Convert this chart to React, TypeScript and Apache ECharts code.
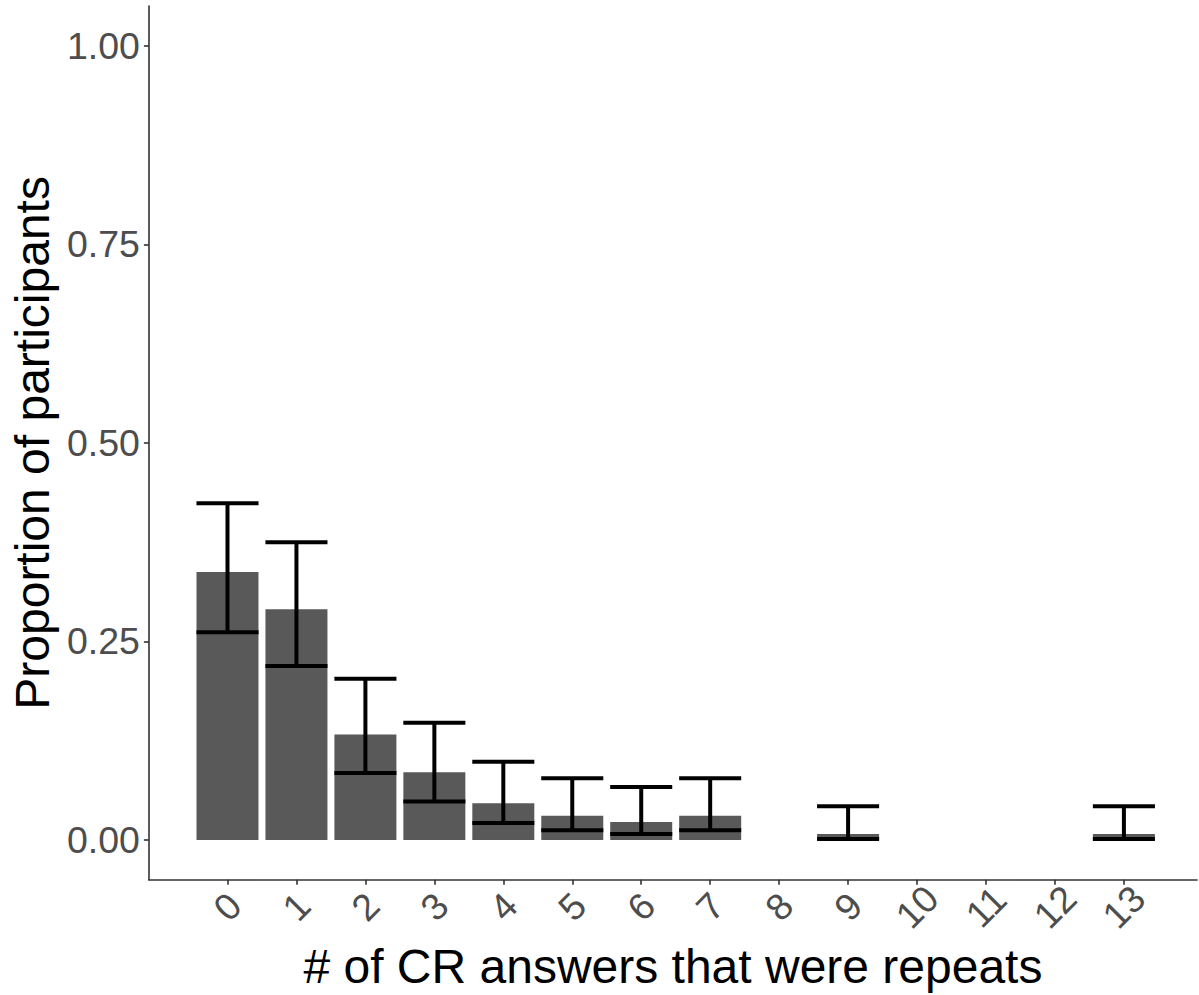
import React, { useEffect, useRef } from "react";
import * as echarts from "echarts";

// Number of constructed-response answers that were repeats
const categories: number[] = [0, 1, 2, 3, 4, 5, 6, 7, 8, 9, 10, 11, 12, 13];
// Proportion of participants per count (categories 8, 10, 11, 12 have none)
const barCats: number[] = [0, 1, 2, 3, 4, 5, 6, 7, 9, 13];
const proportions: number[] = [0.3375, 0.2905, 0.133, 0.0855, 0.0465, 0.0305, 0.0228, 0.0305, 0.0077, 0.0077];
// Confidence interval bounds
const lowerCI: number[] = [0.2615, 0.219, 0.0845, 0.0487, 0.0215, 0.0125, 0.0075, 0.0125, 0.0014, 0.0014];
const upperCI: number[] = [0.424, 0.375, 0.203, 0.1477, 0.0987, 0.0778, 0.0668, 0.0778, 0.0425, 0.0425];
const yTicks: number[] = [0, 0.25, 0.5, 0.75, 1];

const FONT = "'Liberation Sans', Arial, sans-serif";

export default function App() {
  const ref = useRef<HTMLDivElement>(null);

  useEffect(() => {
    if (!ref.current) return;
    const chart = echarts.init(ref.current, null, { renderer: "svg" });

    const barData = barCats.map((c, i) => [c, proportions[i]]);
    const errData = barCats.map((c, i) => [c, lowerCI[i], upperCI[i]]);

    chart.setOption({
      animation: false,
      backgroundColor: "#ffffff",
      grid: { left: 146, right: 2, top: 6, bottom: 112, containLabel: false },
      xAxis: {
        type: "value",
        min: -1.14,
        max: 14.06,
        name: "# of CR answers that were repeats",
        nameLocation: "middle",
        nameGap: 58,
        nameTextStyle: { fontFamily: FONT, fontSize: 48, color: "#000000" },
        splitLine: { show: false },
        axisLine: { show: true, onZero: false, lineStyle: { color: "#333333", width: 1.6 } },
        axisTick: {
          show: true,
          length: 5,
          customValues: categories,
          lineStyle: { color: "#333333", width: 1.6 },
        },
        axisLabel: {
          customValues: categories,
          rotate: 45,
          align: "center",
          verticalAlign: "middle",
          margin: 27,
          fontFamily: FONT,
          fontSize: 37.5,
          color: "#4d4d4d",
          formatter: (v: number) => String(v),
        },
      },
      yAxis: {
        type: "value",
        min: -0.05,
        max: 1.05,
        name: "Proportion of participants",
        nameLocation: "middle",
        nameGap: 86,
        nameTextStyle: { fontFamily: FONT, fontSize: 48, color: "#000000" },
        splitLine: { show: false },
        axisLine: { show: true, onZero: false, lineStyle: { color: "#333333", width: 1.6 } },
        axisTick: {
          show: true,
          length: 5,
          customValues: yTicks,
          lineStyle: { color: "#333333", width: 1.6 },
        },
        axisLabel: {
          customValues: yTicks,
          margin: 9,
          fontFamily: FONT,
          fontSize: 37.5,
          color: "#4d4d4d",
          formatter: (v: number) => v.toFixed(2),
        },
      },
      series: [
        {
          type: "bar",
          data: barData,
          barWidth: 62,
          itemStyle: { color: "#595959" },
          z: 2,
        },
        {
          type: "custom",
          data: errData,
          z: 3,
          renderItem: (params: any, api: any) => {
            const x = api.value(0);
            const lo = api.coord([x, api.value(1)]);
            const hi = api.coord([x, api.value(2)]);
            const left = api.coord([x - 0.45, 0])[0];
            const right = api.coord([x + 0.45, 0])[0];
            const style = { stroke: "#000000", lineWidth: 4, fill: "none" };
            return {
              type: "group",
              children: [
                { type: "line", shape: { x1: lo[0], y1: lo[1], x2: hi[0], y2: hi[1] }, style },
                { type: "line", shape: { x1: left, y1: hi[1], x2: right, y2: hi[1] }, style },
                { type: "line", shape: { x1: left, y1: lo[1], x2: right, y2: lo[1] }, style },
              ],
            };
          },
        },
      ],
    });

    return () => chart.dispose();
  }, []);

  return (
    <div
      ref={ref}
      style={{ position: "fixed", left: 0, top: 0, width: 1199, height: 995, background: "#ffffff" }}
    />
  );
}
